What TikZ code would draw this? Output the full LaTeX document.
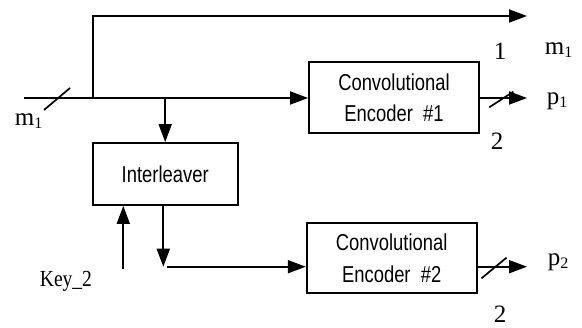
\documentclass[tikz,border=0pt]{standalone}
\usepackage{fontspec}
\setmainfont{Liberation Serif}
\newfontfamily\boxfont[FakeStretch=0.8]{Liberation Sans}
\newfontfamily\keyfont[FakeStretch=0.85]{Liberation Serif}
\usetikzlibrary{arrows.meta}
\newcommand\lsub[1]{\raisebox{-3pt}{\fontsize{16}{16}\selectfont #1}}
\begin{document}
\begin{tikzpicture}[x=1pt,y=-1pt, line width=1.8pt,
  blk/.style={draw, line width=1.8pt, inner sep=0pt, font=\boxfont\fontsize{23}{31.7}\selectfont, align=center},
  arr/.style={-{Triangle[length=18pt,width=13pt]}},
  lbl/.style={font=\fontsize{25}{25}\selectfont, inner sep=0pt, anchor=base west},
  slash/.style={line width=1.7pt}]
\useasboundingbox (0,0) rectangle (582,328);
% blocks
\node[blk, minimum width=170pt, minimum height=71pt] (enc1) at (394,97.8) {Convolutional\\Encoder~~\#1};
\node[blk, minimum width=170pt, minimum height=70.6pt] (enc2) at (391.7,258) {Convolutional\\Encoder~~\#2};
\node[blk, minimum width=145pt, minimum height=62pt] (inter) at (165.2,174) {Interleaver};
% coordinates
\coordinate (in) at (24,98);
\coordinate (br) at (93,98);
\coordinate (topend) at (527,16);
\coordinate (sp) at (165.2,98);
\coordinate (o1) at (527,98);
\coordinate (ilv) at (163.3,266.7);
\coordinate (hstart) at (167,266.7);
\coordinate (key) at (123.3,269);
\coordinate (o2) at (527,266.7);
\coordinate (s0) at (57,99);
\coordinate (s1) at (501.3,99.5);
\coordinate (s2) at (494,268);
% connectors
\draw[arr] (in) -- (in -| enc1.west);
\draw[arr] (br) |- (topend);
\draw[arr] (sp) -- (sp |- inter.north);
\draw[arr] (inter.south -| ilv) -- (ilv);
\draw[arr] (hstart) -- (hstart -| enc2.west);
\draw[arr] (key) -- (key |- inter.south);
\draw[arr] (enc1.east |- o1) -- (o1);
\draw[arr] (enc2.east |- o2) -- (o2);
% bus slashes
\draw[slash] ([shift={(-13,11)}]s0) -- ([shift={(13,-11)}]s0);
\draw[slash] ([shift={(-12,7.8)}]s1) -- ([shift={(12,-7.8)}]s1);
\draw[slash] ([shift={(-12.5,10.3)}]s2) -- ([shift={(12.5,-10.3)}]s2);
% labels
\node[lbl] (one) at (493,60) {1};
\node[lbl] (m1r) at (544,55) {m\lsub{1}};
\node[lbl] (p1) at (546,105) {p\lsub{1}};
\node[lbl] (two1) at (490,150) {2};
\node[lbl] (p2) at (547,266) {p\lsub{2}};
\node[lbl] (two2) at (493,323) {2};
\node[lbl] (m1l) at (14,126) {m\lsub{1}};
\node[font=\keyfont\fontsize{23}{23}\selectfont, inner sep=0pt, anchor=base west] (key2) at (39,287) {Key\_2};
\end{tikzpicture}
\end{document}
